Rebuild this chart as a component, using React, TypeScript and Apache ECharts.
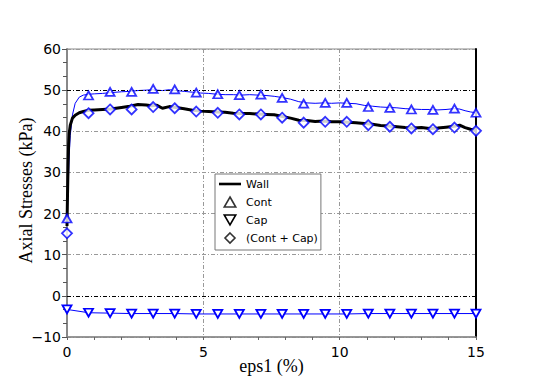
import React, { useEffect, useRef } from "react";
import * as echarts from "echarts";

// strain samples for the continuous curves (eps1, %)
const strainX = [0, 0.02, 0.04, 0.06, 0.08, 0.12, 0.2, 0.3, 0.45, 0.6, 0.8, 1.0, 1.3, 1.6, 2.0, 2.3, 2.6, 2.9, 3.1, 3.3, 3.5, 3.75, 4.0, 4.3, 4.6, 4.9, 5.2, 5.5, 5.8, 6.1, 6.4, 6.7, 7.0, 7.3, 7.6, 7.9, 8.2, 8.5, 8.8, 9.1, 9.4, 9.7, 10.0, 10.3, 10.6, 10.9, 11.2, 11.5, 11.8, 12.1, 12.4, 12.7, 13.0, 13.3, 13.6, 13.9, 14.2, 14.4, 14.6, 14.8, 15.0];
const wallY = [17, 25, 32, 37, 39.5, 41.5, 43.2, 43.9, 44.5, 44.8, 45.1, 45.2, 45.3, 45.4, 45.8, 46.1, 46.5, 46.4, 46.2, 46.3, 45.6, 46.0, 45.8, 45.5, 45.1, 44.9, 44.8, 44.7, 44.6, 44.4, 44.3, 44.3, 44.2, 44.1, 44.0, 43.6, 43.2, 42.7, 42.6, 42.4, 42.5, 42.3, 42.3, 42.2, 42.1, 41.9, 41.7, 41.4, 41.3, 41.1, 40.9, 40.8, 40.9, 40.7, 40.8, 41.0, 41.2, 41.5, 40.9, 40.5, 40.2];
const contLineY = [18.5, 22, 26, 30, 34, 39, 44, 46.8, 48.3, 48.8, 49.0, 49.1, 49.2, 49.4, 49.6, 49.7, 49.9, 50.0, 50.1, 50.0, 49.9, 50.1, 49.9, 49.7, 49.5, 49.3, 49.2, 49.0, 48.9, 48.9, 48.8, 48.9, 48.8, 48.7, 48.5, 48.2, 47.8, 47.2, 46.9, 46.8, 46.9, 46.8, 46.9, 46.8, 46.7, 46.3, 46.1, 45.9, 45.8, 45.7, 45.5, 45.4, 45.3, 45.3, 45.2, 45.3, 45.5, 45.4, 45.0, 44.7, 44.5];

// marker samples
const markerX = [0, 0.79, 1.58, 2.37, 3.16, 3.95, 4.74, 5.53, 6.32, 7.11, 7.89, 8.68, 9.47, 10.26, 11.05, 11.84, 12.63, 13.42, 14.21, 15];
const contMarkers = [18.8, 48.7, 49.6, 49.6, 50.3, 50.2, 49.4, 49.0, 48.8, 48.9, 48.1, 46.7, 46.9, 46.9, 45.9, 45.7, 45.3, 45.2, 45.5, 44.5];
const capMarkers = [-3.3, -4.1, -4.2, -4.3, -4.3, -4.3, -4.4, -4.4, -4.4, -4.4, -4.4, -4.4, -4.4, -4.4, -4.3, -4.3, -4.3, -4.3, -4.3, -4.3];
const sumMarkers = [15.2, 44.4, 45.3, 45.3, 45.9, 45.6, 44.8, 44.5, 44.1, 44.1, 43.3, 42.1, 42.3, 42.3, 41.5, 41.1, 40.7, 40.5, 40.9, 40.1];

const refLines = [0, 50];
const legendNames = ["Wall", "Cont", "Cap", "(Cont + Cap)"];

const zip = (xs: number[], ys: number[]) => xs.map((x, i) => [x, ys[i]]);

const BLUE = "#0000ff";
const GRID_DASH = [4, 2, 1, 2];

export default function App() {
  const ref = useRef<HTMLDivElement>(null);
  useEffect(() => {
    if (!ref.current) return;
    const chart = echarts.init(ref.current, undefined, { renderer: "svg" });
    const markerStyle = { color: "#fff", borderColor: BLUE, borderWidth: 1.8 };
    chart.setOption({
      animation: false,
      backgroundColor: "#fff",
      grid: {
        left: 67, right: 69, top: 49, bottom: 48,
        containLabel: false, outerBoundsMode: "none",
        show: true, borderColor: "#888", borderWidth: 1, backgroundColor: "transparent",
      },
      legend: {
        orient: "vertical",
        left: 215,
        top: 174,
        padding: [4, 3, 6, 4],
        itemWidth: 22,
        itemHeight: 10,
        itemGap: 6,
        backgroundColor: "#fff",
        borderColor: "#777",
        borderWidth: 1,
        selectedMode: false,
        textStyle: { fontFamily: "DejaVu Sans", fontSize: 11, color: "#000", lineHeight: 12 },
        data: [
          { name: legendNames[0], icon: "path://M0 0H22V2.6H0Z", itemStyle: { color: "#000", borderWidth: 0 } },
          { name: legendNames[1], icon: "path://M5 0L10 8.7L0 8.7Z", itemStyle: { color: "#fff", borderColor: "#000", borderWidth: 1.6 } },
          { name: legendNames[2], icon: "path://M0 0L10 0L5 8.7Z", itemStyle: { color: "#fff", borderColor: "#000", borderWidth: 1.6 } },
          { name: legendNames[3], icon: "path://M5 0L10 5L5 10L0 5Z", itemStyle: { color: "#fff", borderColor: "#000", borderWidth: 1.6 } },
        ],
      },
      xAxis: [
        {
          type: "value",
          min: 0,
          max: 15,
          interval: 5,
          name: "eps1 (%)",
          nameLocation: "middle",
          nameGap: 20,
          nameMoveOverlap: false,
          nameTextStyle: { fontFamily: "Liberation Serif", fontSize: 18, color: "#000" },
          axisLine: { show: true, onZero: false, lineStyle: { color: "#888", width: 1.5 } },
          axisTick: { show: true, length: 3, lineStyle: { color: "#666" } },
          minorTick: { show: true, splitNumber: 5, length: 3, lineStyle: { color: "#666" } },
          axisLabel: { fontFamily: "DejaVu Sans", fontSize: 14, color: "#000", margin: 8 },
          splitLine: { show: true, lineStyle: { color: "#999", type: GRID_DASH, width: 1 } },
        },
      ],
      yAxis: [
        {
          type: "value",
          min: -10,
          max: 60,
          interval: 10,
          name: "Axial Stresses (kPa)",
          nameLocation: "middle",
          nameGap: 32,
          nameMoveOverlap: false,
          nameTextStyle: { fontFamily: "Liberation Serif", fontSize: 18, color: "#000", padding: [0, 0, 0, 5] },
          axisLine: { show: true, onZero: false, lineStyle: { color: "#888", width: 2 } },
          axisTick: { show: true, length: 5, lineStyle: { color: "#555" } },
          minorTick: { show: true, splitNumber: 3, length: 4, lineStyle: { color: "#555" } },
          axisLabel: {
            fontFamily: "DejaVu Sans",
            fontSize: 14,
            color: "#000",
            margin: 6,
            formatter: (v: number) => String(v).replace("-", "\u2212"),
          },
          splitLine: { show: true, lineStyle: { color: "#999", type: GRID_DASH, width: 1 } },
        },
        {
          type: "value",
          min: -10,
          max: 60,
          interval: 10,
          position: "right",
          axisLine: { show: true, onZero: false, lineStyle: { color: "#000", width: 2 } },
          axisTick: { show: false },
          axisLabel: { show: false },
          splitLine: { show: false },
        },
      ],
      series: [
        {
          name: "Cont curve",
          type: "line",
          data: zip(strainX, contLineY),
          showSymbol: false,
          lineStyle: { color: BLUE, width: 1 },
          z: 2,
          markLine: {
            silent: true,
            symbol: "none",
            label: { show: false },
            lineStyle: { color: "#000", type: GRID_DASH, width: 1 },
            data: refLines.map((v) => ({ yAxis: v })),
          },
        },
        {
          name: "Wall",
          type: "line",
          data: zip(strainX, wallY),
          showSymbol: false,
          itemStyle: { color: "#000" },
          lineStyle: { color: "#000", width: 3 },
          z: 3,
        },
        {
          name: "Cap",
          type: "line",
          data: zip(markerX, capMarkers),
          symbol: "triangle",
          symbolRotate: 180,
          symbolSize: [9, 8],
          showAllSymbol: true,
          itemStyle: markerStyle,
          lineStyle: { color: BLUE, width: 1 },
          z: 4,
        },
        {
          name: "(Cont + Cap)",
          type: "scatter",
          data: zip(markerX, sumMarkers),
          symbol: "diamond",
          symbolSize: [10, 10],
          itemStyle: markerStyle,
          z: 5,
        },
        {
          name: "Cont",
          type: "scatter",
          data: zip(markerX, contMarkers),
          symbol: "triangle",
          symbolSize: [9, 8],
          itemStyle: markerStyle,
          z: 6,
        },
      ],
    });
    return () => chart.dispose();
  }, []);
  return <div ref={ref} style={{ position: "fixed", left: 0, top: 0, width: 545, height: 385 }} />;
}
